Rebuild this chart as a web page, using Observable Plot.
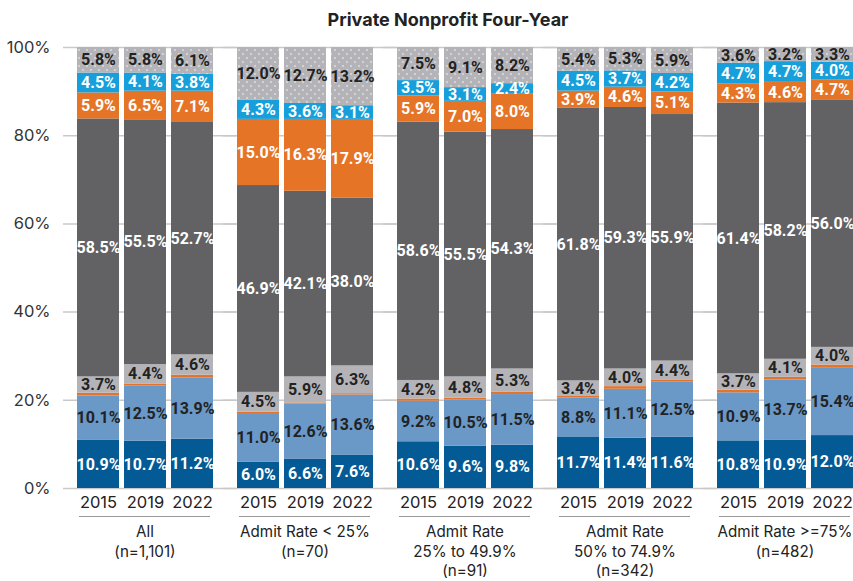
<!DOCTYPE html>
<html><head><meta charset="utf-8">
<script src="https://cdn.jsdelivr.net/npm/d3@7"></script>
<script src="https://cdn.jsdelivr.net/npm/@observablehq/plot@0.6"></script>
<style>
body{margin:0;background:#fff;font-family:Inter, sans-serif;}
#wrap{position:relative;width:853px;height:581px;}
#title{position:absolute;top:9px;left:448px;transform:translateX(-50%);font-weight:700;font-size:18px;color:#222;white-space:nowrap;}
#chart{position:absolute;left:0;top:0;}
</style></head><body>
<svg width="0" height="0" style="position:absolute"><defs>
<pattern id="dots" width="8" height="8" patternUnits="userSpaceOnUse">
<rect width="8" height="8" fill="#b4b4b8"/>
<circle cx="2" cy="2" r="0.75" fill="#fff"/>
<circle cx="6" cy="6" r="0.75" fill="#fff"/>
</pattern></defs></svg>
<div id="wrap"><div id="chart"></div><div id="title">Private Nonprofit Four-Year</div></div>
<script>
const groups = ["All", "Admit Rate < 25%", "Admit Rate 25% to 49.9%", "Admit Rate 50% to 74.9%", "Admit Rate >=75%"];
const groupLabels = ["All\n(n=1,101)", "Admit Rate < 25%\n(n=70)", "Admit Rate\n25% to 49.9%\n(n=91)", "Admit Rate\n50% to 74.9%\n(n=342)", "Admit Rate >=75%\n(n=482)"];
const years = ["2015", "2019", "2022"];
const seriesNames = ["Segment 1", "Segment 2", "Segment 3", "Segment 4", "Segment 5", "Segment 6", "Segment 7", "Segment 8"];
const seriesColors = ["#035a95", "#6a98c7", "#e5742a", "#b4b4b8", "#626265", "#e57426", "#169fdb", "url(#dots)"];
// values per series, ordered group by group, year by year (percent)
const s1 = [10.9, 10.7, 11.2, 6.0, 6.6, 7.6, 10.6, 9.6, 9.8, 11.7, 11.4, 11.6, 10.8, 10.9, 12.0];
const s2 = [10.1, 12.5, 13.9, 11.0, 12.6, 13.6, 9.2, 10.5, 11.5, 8.8, 11.1, 12.5, 10.9, 13.7, 15.4];
const s3 = [0.6, 0.5, 0.6, 0.3, 0.2, 0.3, 0.5, 0.4, 0.5, 0.5, 0.6, 0.4, 0.6, 0.6, 0.6];
const s4 = [3.7, 4.4, 4.6, 4.5, 5.9, 6.3, 4.2, 4.8, 5.3, 3.4, 4.0, 4.4, 3.7, 4.1, 4.0];
const s5 = [58.5, 55.5, 52.7, 46.9, 42.1, 38.0, 58.6, 55.5, 54.3, 61.8, 59.3, 55.9, 61.4, 58.2, 56.0];
const s6 = [5.9, 6.5, 7.1, 15.0, 16.3, 17.9, 5.9, 7.0, 8.0, 3.9, 4.6, 5.1, 4.3, 4.6, 4.7];
const s7 = [4.5, 4.1, 3.8, 4.3, 3.6, 3.1, 3.5, 3.1, 2.4, 4.5, 3.7, 4.2, 4.7, 4.7, 4.0];
const s8 = [5.8, 5.8, 6.1, 12.0, 12.7, 13.2, 7.5, 9.1, 8.2, 5.4, 5.3, 5.9, 3.6, 3.2, 3.3];
const yTicks = [0, 0.2, 0.4, 0.6, 0.8, 1.0];

const seriesValues = [s1, s2, s3, s4, s5, s6, s7, s8];
const labelled = new Set(["Segment 1", "Segment 2", "Segment 4", "Segment 5", "Segment 6", "Segment 7", "Segment 8"]);
const whiteText = new Set(["Segment 1", "Segment 5", "Segment 6", "Segment 7"]);

const data = [];
groups.forEach((g, gi) => years.forEach((yr, yi) => seriesNames.forEach((s, si) => {
  const v = seriesValues[si][gi * 3 + yi];
  data.push({group: g, year: yr, series: s, value: v / 100, pct: v});
})));

const fmt = d => d.pct.toFixed(1) + "%";
const stackOpts = (extra) => Plot.stackY({fx: "group", x: "year", y: "value", z: "series", order: seriesNames, ...extra});
const labelStyle = {fontWeight: 700, fontSize: 16, fontFamily: "Roboto, sans-serif", letterSpacing: "-0.6px"};

const chart = Plot.plot({
  width: 853, height: 581,
  marginTop: 47, marginBottom: 93, marginLeft: 63, marginRight: 0,
  style: {fontFamily: "Inter, sans-serif", fontSize: "15px", color: "#333", background: "transparent", overflow: "visible"},
  fx: {domain: groups, paddingInner: 0.14375, paddingOuter: 0.040625, align: 1, axis: null, label: null},
  x: {domain: years, paddingInner: 0.116, paddingOuter: 0, label: null},
  y: {domain: [0, 1], axis: null},
  color: {domain: seriesNames, range: seriesColors},
  marks: [
    Plot.ruleY(yTicks, {stroke: "#c9c9c9", strokeWidth: 1.5, insetLeft: -13, insetRight: -23}),
    Plot.text(yTicks, {fx: () => groups[0], y: d => d, text: d => Math.round(d * 100) + "%", frameAnchor: "left", textAnchor: "end", dx: -26, fontSize: 16.5, fill: "#333"}),
    Plot.barY(data, stackOpts({fill: "series"})),
    Plot.text(data, stackOpts({text: d => labelled.has(d.series) && whiteText.has(d.series) ? fmt(d) : "", fill: "white", ...labelStyle})),
    Plot.text(data, stackOpts({text: d => labelled.has(d.series) && !whiteText.has(d.series) ? fmt(d) : "", fill: "#222", ...labelStyle})),
    Plot.axisX({tickSize: 0, tickPadding: 8, fontSize: 16.5, color: "#222", label: null}),
    Plot.ruleY([0], {dy: 28, stroke: "#999", strokeWidth: 1.2, insetLeft: 3, insetRight: 3}),
    Plot.text(groups, {fx: d => d, text: d => groupLabels[groups.indexOf(d)], frameAnchor: "bottom", lineAnchor: "top", dy: 35, lineHeight: 1.28, fontSize: 15.2, fill: "#222"})
  ]
});
document.getElementById("chart").appendChild(chart);
</script>
</body></html>
